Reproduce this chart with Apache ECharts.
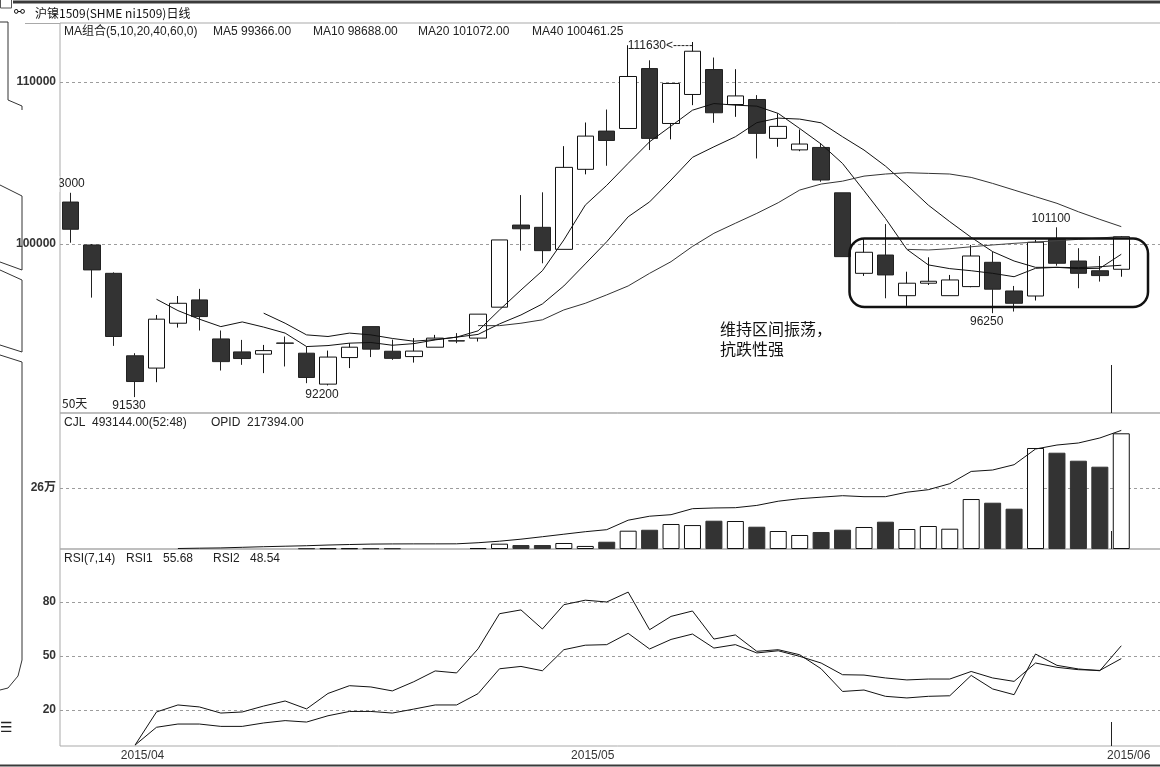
<!DOCTYPE html>
<html><head><meta charset="utf-8">
<script src="https://cdn.jsdelivr.net/npm/echarts@6/dist/echarts.min.js"></script>
<style>html,body{margin:0;padding:0;background:#fff;overflow:hidden}#c{width:1190px;height:767px}</style>
</head><body><div id="c"></div>
<script>
// ---------------- data ----------------
// daily candles: [open, close, low, high]
const ohlc = [
  [102590,100910,100080,103160],[99940,98400,96690,100000],[98190,94290,93710,98250],[93100,91510,90550,93260],
  [92340,95360,91470,95620],[95110,96340,94840,96790],[96550,95520,94660,97230],[94140,92740,92190,94660],
  [93340,92930,92540,94080],[93200,93420,92030,93770],[93890,93870,92440,94290],[93260,91760,91410,93670],
  [91350,93020,91270,93420],[92990,93630,92340,93880],[94900,93510,93020,94900],[93380,92940,92850,94100],
  [93050,93390,92680,94190],[93630,94190,93630,94390],[94030,94010,93880,94500],[94190,95670,93980,95670],
  [96100,100250,96100,100250],[101170,100940,99590,103020],[101030,99590,98810,103190],[99670,104730,99670,106040],
  [104610,106660,104300,107500],[106970,106390,104830,108300],[107130,110340,107130,112270],[110830,106520,105800,111340],
  [107440,109910,106460,109910],[109230,111900,108570,112470],[110770,108100,107480,111510],[108610,109140,107850,110790],
  [108920,106830,105280,109190],[106520,107260,106000,108060],[105810,106170,105730,107070],[105960,103950,103840,106200],
  [103160,99220,99220,103160],[98190,99490,98030,100290],[99320,98090,96650,101230],[96810,97580,96180,98290],
  [97580,97700,97470,99180],[96810,97780,96810,98090],[97370,99260,97330,99940],[98870,97210,95730,99530],
  [97100,96340,95830,97410],[96790,100110,96510,100250],[100290,98810,98660,101030],[98950,98190,97270,99740],
  [98350,98050,97680,99260],[98440,100450,97980,100490]
];
const ma5 = [null,null,null,null,96590,95890,95360,94900,95190,94870,94500,93670,93730,93880,93920,93750,93850,94080,94250,94640,
  95930,97160,98350,100250,102400,103620,104980,106310,107280,108260,108670,108570,108510,108060,107130,106170,104970,103290,101580,99670,
  98710,98480,98350,98190,97980,98500,98560,98480,98500,99366];
const ma10 = [null,null,null,null,null,null,null,null,null,95730,95110,94390,94290,94500,94390,94170,94000,94100,94250,94420,
  95070,95620,96300,97410,98770,100140,101680,102600,103950,105350,106000,106620,107490,107770,107710,107480,106620,105800,104810,103640,
  102400,101380,100410,99530,98950,98560,98560,98540,98600,98688];
const ma20 = [null,null,null,null,null,null,null,null,null,null,null,null,null,null,null,null,null,null,null,94960,
  94960,95110,95320,95930,96340,96860,97410,98190,98910,99850,100660,101280,101890,102550,103330,103700,103880,104190,104320,104400,
  104360,104320,104110,103740,103330,102920,102510,101990,101520,101072];
const ma40 = [null,null,null,null,null,null,null,null,null,null,null,null,null,null,null,null,null,null,null,null,
  null,null,null,null,null,null,null,null,null,null,null,null,null,null,null,null,null,null,null,99670,
  99630,99710,99830,99940,100040,100120,100200,100290,100370,100461.25];
const volume = [null,null,null,null,null,null,null,null,null,null,null,3000,3000,3000,3000,3000,null,null,null,4000,
  22700,17000,17000,25600,13000,31000,78000,82000,106600,102000,120600,119300,95000,76700,59700,72500,82300,93800,116400,85200,
  98000,86500,213000,197300,171800,430500,410400,376300,350800,493144];
const openInterest = [null,null,null,null,null,900,1500,2000,3100,4200,5100,6000,7300,8200,9000,9300,9400,9400,9500,11500,
  14300,18000,22500,27100,31700,35400,52800,60100,62900,73900,75200,75700,79900,87600,92200,95000,97700,95900,95900,104100,
  108700,119700,142200,144800,154500,183300,190600,194300,203500,217394];
const rsi1 = [null,null,null,0.5,18.9,22.8,21.7,18.3,18.9,22.2,25.0,20.6,29.2,33.5,32.8,30.6,35.7,41.7,40.6,54.0,
  73.5,75.6,65.0,78.5,81.0,80.0,85.5,64.6,72.0,75.0,59.4,61.7,52.6,53.5,50.7,42.9,30.3,31.1,27.6,26.7,
  27.6,27.9,39.2,31.7,28.5,51.1,44.8,42.8,41.8,55.68];
const rsi2 = [null,null,null,0.5,10.4,12.2,12.2,10.9,10.9,12.8,14.1,13.3,16.8,19.2,19.2,18.3,20.5,22.8,22.8,29.1,
  42.9,44.2,41.8,53.5,56.0,56.3,62.6,53.9,59.2,62.2,54.4,56.3,51.7,52.9,49.8,46.1,39.6,39.4,37.8,36.7,
  37.2,37.2,41.4,37.8,35.9,46.1,43.7,42.4,42.0,48.54];
const priceTicks = [100000, 110000];
const volumeTicks = [260000];
const rsiTicks = [20, 50, 80];
const monthTickIndex = [3, 24, 49];
const monthTickLabel = ['2015/04', '2015/05', '2015/06'];
// extreme-price notes written on the chart: [candle index, 'high'|'low', text]
const extremeNotes = [[0,'high','103000'],[3,'low','91530'],[12,'low','92200'],[29,'high','111630<-----'],[43,'low','96250'],[46,'high','101100']];
const noteText = ['维持区间振荡，', '抗跌性强'];

// ---------------- layout ----------------
const NCAT = 52, BAND = 21.44, GL = 60, GW = BAND * NCAT;
const cats = Array.from({length: NCAT}, (_, i) => String(i));
const LAT = "'Liberation Sans', 'Noto Sans CJK SC', sans-serif";
const CJK = "'Noto Sans CJK SC', 'Liberation Sans', sans-serif";
const gridBox = {show: true, borderColor: '#a9a9a9', borderWidth: 1, backgroundColor: 'transparent'};
const dash = {show: true, lineStyle: {type: [3, 3], color: '#9c9c9c', width: 1}};
const tickLab = (vals, fmt) => ({customValues: vals, formatter: fmt, fontFamily: LAT, fontSize: 12, fontWeight: 'bold', color: '#333', margin: 4});

const isUp = i => ohlc[i][1] >= ohlc[i][0];
const volData = volume.map((v, i) => v == null ? null : {
  value: v,
  itemStyle: isUp(i) ? {color: '#fff', borderColor: '#111', borderWidth: 1} : {color: '#333', borderColor: '#333', borderWidth: 1}
});
const lineS = (name, data, xi, yi, color) => ({
  name, type: 'line', data, xAxisIndex: xi, yAxisIndex: yi, symbol: 'none', silent: true,
  lineStyle: {color: color || '#111', width: 1}, z: 5
});

const chart = echarts.init(document.getElementById('c'), null, {renderer: 'canvas', width: 1190, height: 767});
chart.setOption({
  animation: false,
  backgroundColor: '#fff',
  grid: [
    Object.assign({left: GL, top: 23, width: GW, height: 390}, gridBox),
    Object.assign({left: GL, top: 413, width: GW, height: 136}, gridBox),
    Object.assign({left: GL, top: 549, width: GW, height: 197}, gridBox)
  ],
  xAxis: [0, 1, 2].map(g => ({
    type: 'category', gridIndex: g, data: cats, boundaryGap: true,
    axisLine: {show: false}, axisTick: {show: false}, splitLine: {show: false},
    axisLabel: g === 2 ? {
      show: true, margin: 4, fontFamily: LAT, fontSize: 12, color: '#333',
      interval: idx => monthTickIndex.indexOf(idx) >= 0,
      formatter: (v, idx) => {
        const k = monthTickIndex.indexOf(Number(v));
        return k >= 0 ? '{m|' + monthTickLabel[k] + '}' : '';
      },
      rich: {m: {padding: [0, 0, 0, 15], fontFamily: LAT, fontSize: 12, color: '#333'}}
    } : {show: false}
  })),
  yAxis: [
    {type: 'value', gridIndex: 0, min: 89568, max: 113642, axisLine: {show: false},
     axisTick: {show: false, customValues: priceTicks}, axisLabel: tickLab(priceTicks, v => String(v)), splitLine: dash},
    {type: 'value', gridIndex: 1, min: 0, max: 579672, axisLine: {show: false},
     axisTick: {show: false, customValues: volumeTicks}, axisLabel: tickLab(volumeTicks, v => (v / 10000) + '万'), splitLine: dash},
    {type: 'value', gridIndex: 1, min: 0, max: 249288, show: false, splitLine: {show: false}},
    {type: 'value', gridIndex: 2, min: 0, max: 109.44, axisLine: {show: false},
     axisTick: {show: false, customValues: rsiTicks}, axisLabel: tickLab(rsiTicks, v => String(v)), splitLine: dash}
  ],
  series: [
    {name: 'K', type: 'candlestick', data: ohlc, xAxisIndex: 0, yAxisIndex: 0, barWidth: 17, silent: true,
     itemStyle: {color: '#fff', color0: '#333', borderColor: '#111', borderColor0: '#222', borderWidth: 1}, z: 3},
    lineS('MA5', ma5, 0, 0),
    lineS('MA10', ma10, 0, 0),
    lineS('MA20', ma20, 0, 0, '#333'),
    lineS('MA40', ma40, 0, 0, '#444'),
    {name: 'CJL', type: 'bar', data: volData, xAxisIndex: 1, yAxisIndex: 1, barWidth: 17, silent: true, z: 3},
    lineS('OPID', openInterest, 1, 2),
    lineS('RSI1', rsi1, 2, 3),
    lineS('RSI2', rsi2, 2, 3)
  ]
});

// ---------------- overlay texts & marks (placed through the axes) ----------------
const P = (i, v, g) => chart.convertToPixel({xAxisIndex: g, yAxisIndex: [0, 1, 3][g]}, [i, v]);
const txt = (x, y, s, extra) => ({type: 'text', x, y, silent: true, z: 50,
  style: Object.assign({text: s, font: "12px " + LAT, fill: '#222', textVerticalAlign: 'middle'}, extra || {})});
const line = (x1, y1, x2, y2, stroke, w) => ({type: 'line', silent: true, z: 40,
  shape: {x1, y1, x2, y2}, style: {stroke: stroke || '#222', lineWidth: w || 1}});
const g = [];
// header & legend texts
g.push(txt(35, 13, '沪镍1509(SHME ni1509)日线', {font: "12px " + CJK, fill: '#111'}));
g.push(txt(14, 13, '⚯', {font: "13px 'DejaVu Sans'", fill: '#111'}));
const last = ohlc.length - 1;
g.push(txt(64, 32, 'MA组合(5,10,20,40,60,0)'));
g.push(txt(213, 32, 'MA5 ' + ma5[last].toFixed(2)));
g.push(txt(313, 32, 'MA10 ' + ma10[last].toFixed(2)));
g.push(txt(418, 32, 'MA20 ' + ma20[last].toFixed(2)));
g.push(txt(532, 32, 'MA40 ' + ma40[last].toFixed(2)));
g.push(txt(64, 423, 'CJL  ' + volume[last].toFixed(2) + '(52:48)'));
g.push(txt(211, 423, 'OPID  ' + openInterest[last].toFixed(2)));
g.push(txt(64, 559, 'RSI(7,14)'));
g.push(txt(126, 559, 'RSI1'));
g.push(txt(163, 559, rsi1[last].toFixed(2)));
g.push(txt(213, 559, 'RSI2'));
g.push(txt(250, 559, rsi2[last].toFixed(2)));
g.push(txt(62, 403, '50天', {font: "12px " + CJK}));
// extreme notes
extremeNotes.forEach(([i, f, s]) => {
  const v = f === 'high' ? ohlc[i][3] : ohlc[i][2];
  const [x, y] = P(i, v, 0);
  if (s.indexOf('<') >= 0) g.push(txt(x + 0.5, y + 3.5, s, {textAlign: 'right'}));
  else g.push(txt(x - 6, f === 'high' ? y - 9 : y + 8.8, s, {textAlign: 'center'}));
});
// white cover left of the plot (note clipped by the pane)
g.push({type: 'rect', silent: true, z: 60, shape: {x: 28, y: 176, width: 31.5, height: 16}, style: {fill: '#fff'}});
// month separator stubs before the June candle
const sx = Math.round(P(49, 0, 2)[0] - BAND / 2) + 0.5;
g.push(line(sx, 365, sx, 413), line(sx, 531, sx, 549), line(sx, 722, sx, 746));
// annotation frame and note
g.push({type: 'rect', silent: true, z: 45, shape: {x: 849.5, y: 238.5, width: 298.5, height: 68.5, r: 15},
  style: {fill: 'none', stroke: '#111', lineWidth: 2.5}});
g.push(txt(720, 329, noteText[0], {font: "16px " + CJK, fill: '#111'}));
g.push(txt(720, 349, noteText[1], {font: "16px " + CJK, fill: '#111'}));
// window frame lines
g.push(line(13, 2, 1190, 2, '#3a3a3a', 3));
g.push({type: 'rect', silent: true, z: 40, shape: {x: 0.5, y: -2, width: 11, height: 10}, style: {fill: 'none', stroke: '#555'}});
g.push(line(25, 23.5, 60, 23.5, '#a9a9a9', 1));
g.push(line(0, 765.5, 1190, 765.5, '#3a3a3a', 2));
// left side panel remnants
g.push({type: 'polyline', silent: true, z: 40, shape: {points: [[0, 22], [8, 22], [8, 100], [22, 106], [22, 110]]}, style: {fill: 'none', stroke: '#333'}});
g.push({type: 'polyline', silent: true, z: 40, shape: {points: [[0, 185], [22, 196], [22, 270], [0, 262]]}, style: {fill: 'none', stroke: '#333'}});
g.push({type: 'polyline', silent: true, z: 40, shape: {points: [[0, 270], [22, 280], [22, 352], [0, 345]]}, style: {fill: 'none', stroke: '#333'}});
g.push({type: 'polyline', silent: true, z: 40, shape: {points: [[0, 355], [22, 362], [22, 660], [18, 676], [8, 688], [0, 690]]}, style: {fill: 'none', stroke: '#333'}});
g.push(txt(0, 728, '☰', {font: "14px 'DejaVu Sans'", fill: '#222'}));
chart.setOption({graphic: g});
</script>
</body></html>
